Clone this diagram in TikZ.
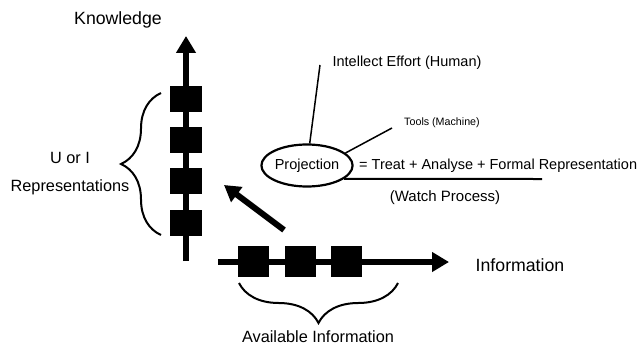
\documentclass[tikz,border=0pt]{standalone}
\usepackage{fontspec}
\setmainfont{Liberation Sans}
\usetikzlibrary{arrows.meta,shapes.geometric,decorations.pathreplacing}

\begin{document}
\begin{tikzpicture}[x=1pt,y=1pt,
  axis/.style={line width=6.5pt,-{Triangle[length=17pt,width=19pt]}},
  vblock/.style={fill=black,inner sep=0pt,minimum width=32pt,minimum height=26pt},
  hblock/.style={fill=black,inner sep=0pt,minimum width=31pt,minimum height=31pt},
  curly/.style={line width=2pt,decorate,decoration={brace,amplitude=40pt}},
  big/.style={font=\fontsize{17.7}{20}\selectfont},
  mid/.style={font=\fontsize{16.3}{19}\selectfont},
  small/.style={font=\fontsize{14.5}{17}\selectfont}]
\useasboundingbox (0,0) rectangle (639,346);
\coordinate (kbot) at (186,85);
\coordinate (ktop) at (186,310);
\coordinate (ibot) at (218,84);
\coordinate (itop) at (449,84);
\draw[axis] (kbot) -- (ktop);
\draw[axis] (ibot) -- (itop);
\node[big](know) at (118,326){Knowledge};
\node[big](info) at (520,81){Information};
\node[vblock](k1) at (186,247){};
\node[vblock](k2) at (186,206){};
\node[vblock](k3) at (186,165){};
\node[vblock](k4) at (186,123.5){};
\node[hblock](i1) at (253.5,84.5){};
\node[hblock](i2) at (300,84.5){};
\node[hblock](i3) at (346,84.5){};
\coordinate (lb1) at (161,111);
\coordinate (lb2) at (161,253);
\draw[curly] (lb1) -- (lb2);
\node[mid](uori) at (70,188){U or I};
\node[mid](repr) at (70,159){Representations};
\coordinate (bb1) at (398,63);
\coordinate (bb2) at (239,63);
\draw[curly] (bb1) -- (bb2);
\node[mid](avail) at (318,9){Available Information};
\coordinate (ptail) at (284,116);
\coordinate (phead) at (224,161);
\draw[line width=6pt,-{Triangle[length=16pt,width=18pt]}] (ptail) -- (phead);
\node[small,draw,line width=2.2pt,shape=ellipse,inner sep=0pt,minimum width=88pt,minimum height=42pt](proj) at (307,180.5){Projection};
\node[small,anchor=west,inner sep=0pt](eq) at (359,180){= Treat + Analyse + Formal Representation};
\node[font=\fontsize{15}{18}\selectfont](watch) at (445,148){(Watch Process)};
\node[small](human) at (407,283){Intellect Effort (Human)};
\node[font=\fontsize{10.7}{13}\selectfont](tools) at (442,223){Tools (Machine)};
\coordinate (hend) at (320,281);
\coordinate (tend) at (392,218);
\coordinate (uend) at (542,167);
\draw[line width=1.5pt] (proj.83) -- (hend);
\draw[line width=1.5pt] (proj.18) -- (tend);
\draw[line width=2pt] (proj.-20) -- (uend);
\end{tikzpicture}
\end{document}
